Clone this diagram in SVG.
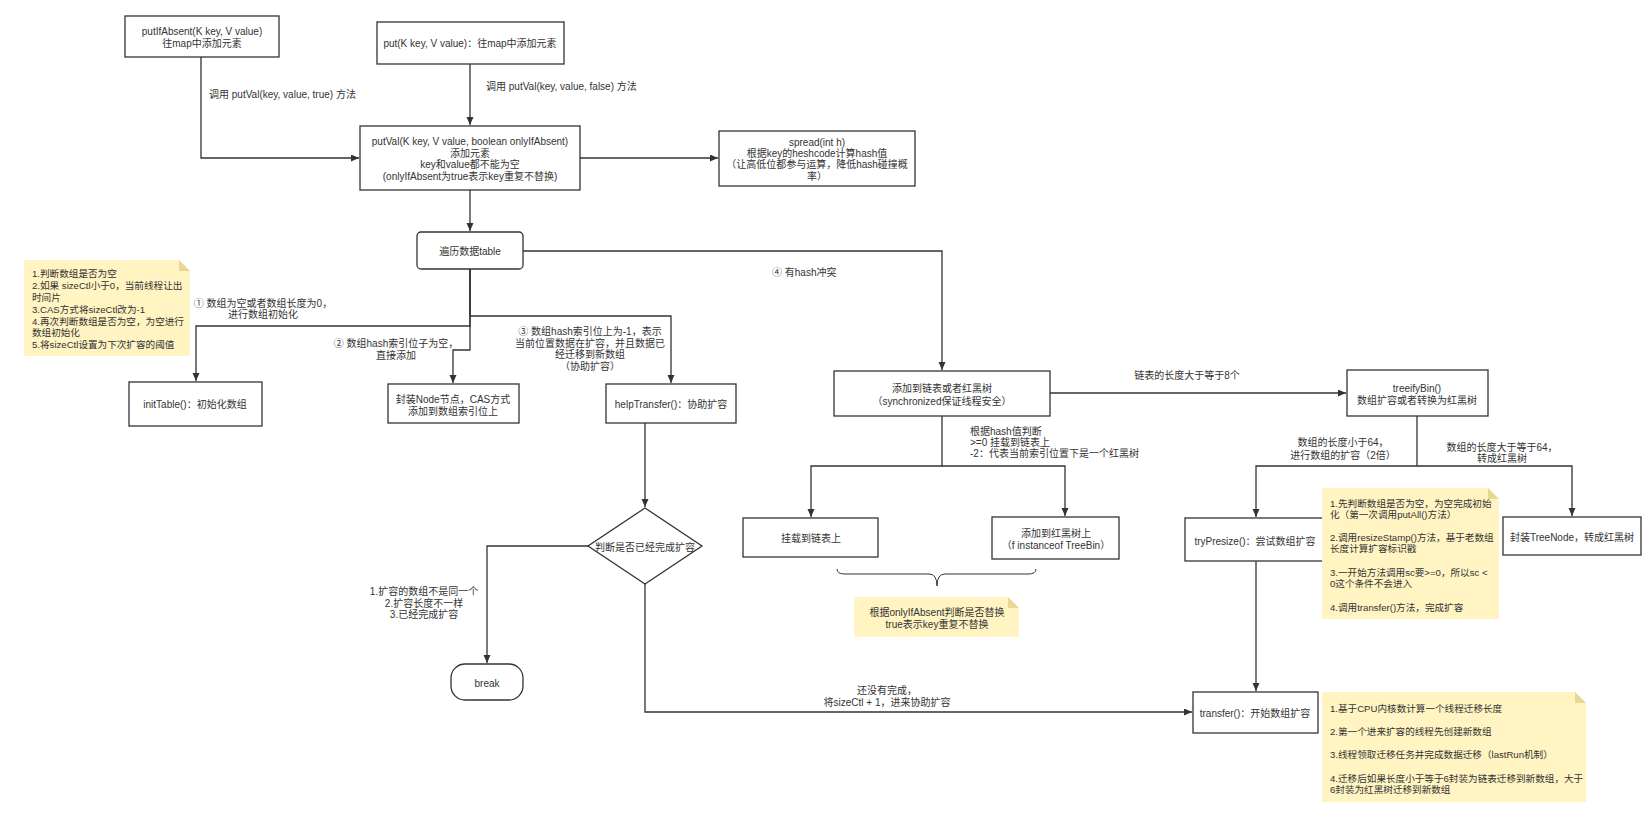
<svg xmlns="http://www.w3.org/2000/svg" width="1652" height="839" viewBox="0 0 1652 839">
<defs>
<marker id="ar" markerWidth="9" markerHeight="8" refX="8" refY="3.5" orient="auto" markerUnits="userSpaceOnUse"><path d="M0,0 L8,3.5 L0,7 Z" fill="#333"/></marker>
<style>
.b{fill:#fff;stroke:#333;stroke-width:1.3}
.t{font-family:"Liberation Sans","Noto Sans CJK SC",sans-serif;font-size:10px;fill:#333;dominant-baseline:central}
.nt{font-size:9.6px}
.m{text-anchor:middle}
.e{fill:none;stroke:#333;stroke-width:1.3;marker-end:url(#ar)}
.n{fill:#fff4c2}
.f{fill:#e8d894}
</style>
</defs>
<rect width="1652" height="839" fill="#fff"/>
<g id="edges">
<path class="e" d="M201,57 V158 H359"/>
<path class="e" d="M470,64 V125"/>
<path class="e" d="M580,158 H718"/>
<path class="e" d="M470,190 V231"/>
<path class="e" d="M470,269 V326 H196 V381"/>
<path class="e" d="M470,269 V316 H671 V383"/>
<path class="e" d="M470,269 V350 H453 V383"/>
<path class="e" d="M523,251 H942 V370"/>
<path class="e" d="M645,423 V507"/>
<path class="e" d="M588,546 H487 V663"/>
<path class="e" d="M645,584 V712 H1192"/>
<path class="e" d="M1050,393 H1346"/>
<path class="e" d="M942,416 V466 H811 V517"/>
<path class="e" d="M942,466 H1065 V516"/>
<path class="e" d="M1417,416 V466 H1256 V517"/>
<path class="e" d="M1417,466 H1572 V516"/>
<path class="e" d="M1256,561 V691"/>
<path d="M837,569 Q837,574 845,574 L929,574 Q937,574 937,586 Q937,574 945,574 L1028,574 Q1036,574 1036,569" fill="none" stroke="#333" stroke-width="1"/>
</g>
<g id="edge-labels">
<text class="t" x="209" y="94">调用 putVal(key, value, true) 方法</text>
<text class="t" x="486" y="86">调用 putVal(key, value, false) 方法</text>
<text class="t m" x="263" y="303">① 数组为空或者数组长度为0，</text>
<text class="t m" x="263" y="314">进行数组初始化</text>
<text class="t m" x="396" y="343">② 数组hash索引位子为空，</text>
<text class="t m" x="396" y="355">直接添加</text>
<text class="t m" x="590" y="331">③ 数组hash索引位上为-1，表示</text>
<text class="t m" x="590" y="343">当前位置数据在扩容，并且数据已</text>
<text class="t m" x="590" y="354">经迁移到新数组</text>
<text class="t m" x="590" y="366">（协助扩容）</text>
<text class="t" x="772" y="272">④ 有hash冲突</text>
<text class="t m" x="1187" y="375">链表的长度大于等于8个</text>
<text class="t" x="970" y="431">根据hash值判断</text>
<text class="t" x="970" y="442">&gt;=0 挂载到链表上</text>
<text class="t" x="970" y="453">-2：代表当前索引位置下是一个红黑树</text>
<text class="t m" x="1343" y="442">数组的长度小于64，</text>
<text class="t m" x="1343" y="455">进行数组的扩容（2倍）</text>
<text class="t m" x="1502" y="447">数组的长度大于等于64，</text>
<text class="t m" x="1502" y="458">转成红黑树</text>
<text class="t m" x="424" y="591">1.扩容的数组不是同一个</text>
<text class="t m" x="424" y="603">2.扩容长度不一样</text>
<text class="t m" x="424" y="614">3.已经完成扩容</text>
<text class="t m" x="887" y="690">还没有完成，</text>
<text class="t m" x="887" y="702">将sizeCtl + 1，进来协助扩容</text>
</g>
<g id="putIfAbsent"><rect class="b" x="125" y="16" width="154" height="41"/><text class="t m" x="202" y="31">putIfAbsent(K key, V value)</text><text class="t m" x="202" y="43">往map中添加元素</text></g>
<g id="put"><rect class="b" x="377" y="22" width="187" height="42"/><text class="t m" x="470" y="43">put(K key, V value)：往map中添加元素</text></g>
<g id="putVal"><rect class="b" x="360" y="126" width="220" height="64"/><text class="t m" x="470" y="141">putVal(K key, V value, boolean onlyIfAbsent)</text><text class="t m" x="470" y="153">添加元素</text><text class="t m" x="470" y="164">key和value都不能为空</text><text class="t m" x="470" y="176">(onlyIfAbsent为true表示key重复不替换)</text></g>
<g id="spread"><rect class="b" x="719" y="131" width="196" height="55"/><text class="t m" x="817" y="142">spread(int h)</text><text class="t m" x="817" y="153">根据key的heshcode计算hash值</text><text class="t m" x="817" y="164">（让高低位都参与运算，降低hash碰撞概</text><text class="t m" x="817" y="176">率）</text></g>
<g id="table"><rect class="b" x="417" y="232" width="106" height="37" rx="4"/><text class="t m" x="470" y="251">遍历数据table</text></g>
<g id="note1"><path class="n" d="M24,260 H179 L190,271 V356 H24 Z"/><path class="f" d="M179,260 V271 H190 Z"/>
<text class="t nt" x="32" y="273">1.判断数组是否为空</text><text class="t nt" x="32" y="285">2.如果 sizeCtl小于0，当前线程让出</text><text class="t nt" x="32" y="297">时间片</text><text class="t nt" x="32" y="309">3.CAS方式将sizeCtl改为-1</text><text class="t nt" x="32" y="321">4.再次判断数组是否为空，为空进行</text><text class="t nt" x="32" y="332">数组初始化</text><text class="t nt" x="32" y="344">5.将sizeCtl设置为下次扩容的阈值</text></g>
<g id="initTable"><rect class="b" x="129" y="382" width="133" height="44"/><text class="t m" x="195" y="404">initTable()：初始化数组</text></g>
<g id="nodeCas"><rect class="b" x="388" y="384" width="131" height="39"/><text class="t m" x="453" y="399">封装Node节点，CAS方式</text><text class="t m" x="453" y="411">添加到数组索引位上</text></g>
<g id="helpTransfer"><rect class="b" x="606" y="384" width="130" height="39"/><text class="t m" x="671" y="404">helpTransfer()：协助扩容</text></g>
<g id="decision"><path class="b" d="M645,508 L702,546 L645,584 L588,546 Z"/><text class="t m" x="645" y="547">判断是否已经完成扩容</text></g>
<g id="break"><rect class="b" x="451" y="664" width="72" height="36" rx="14"/><text class="t m" x="487" y="683">break</text></g>
<g id="addList"><rect class="b" x="834" y="371" width="216" height="45"/><text class="t m" x="942" y="388">添加到链表或者红黑树</text><text class="t m" x="942" y="401">（synchronized保证线程安全）</text></g>
<g id="treeifyBin"><rect class="b" x="1347" y="370" width="141" height="46"/><text class="t m" x="1417" y="388">treeifyBin()</text><text class="t m" x="1417" y="400">数组扩容或者转换为红黑树</text></g>
<g id="linkList"><rect class="b" x="743" y="518" width="135" height="39"/><text class="t m" x="811" y="538">挂载到链表上</text></g>
<g id="rbTree"><rect class="b" x="992" y="517" width="127" height="42"/><text class="t m" x="1056" y="533">添加到红黑树上</text><text class="t m" x="1056" y="545">（f instanceof TreeBin）</text></g>
<g id="note3"><path class="n" d="M854,597 H1008 L1019,608 V637 H854 Z"/><path class="f" d="M1008,597 V608 H1019 Z"/><text class="t m" x="937" y="612">根据onlyIfAbsent判断是否替换</text><text class="t m" x="937" y="624">true表示key重复不替换</text></g>
<g id="tryPresize"><rect class="b" x="1185" y="518" width="140" height="43"/><text class="t m" x="1255" y="541">tryPresize()：尝试数组扩容</text></g>
<g id="treeNode"><rect class="b" x="1503" y="517" width="138" height="38"/><text class="t m" x="1572" y="537">封装TreeNode，转成红黑树</text></g>
<g id="note2"><path class="n" d="M1322,488 H1488 L1499,499 V619 H1322 Z"/><path class="f" d="M1488,488 V499 H1499 Z"/>
<text class="t nt" x="1330" y="503">1.先判断数组是否为空，为空完成初始</text><text class="t nt" x="1330" y="514">化（第一次调用putAll()方法）</text><text class="t nt" x="1330" y="537">2.调用resizeStamp()方法，基于老数组</text><text class="t nt" x="1330" y="548">长度计算扩容标识戳</text><text class="t nt" x="1330" y="572">3.一开始方法调用sc要&gt;=0，所以sc &lt;</text><text class="t nt" x="1330" y="583">0这个条件不会进入</text><text class="t nt" x="1330" y="607">4.调用transfer()方法，完成扩容</text></g>
<g id="transfer"><rect class="b" x="1193" y="692" width="125" height="41"/><text class="t m" x="1255" y="713">transfer()：开始数组扩容</text></g>
<g id="note4"><path class="n" d="M1322,692 H1575 L1586,703 V802 H1322 Z"/><path class="f" d="M1575,692 V703 H1586 Z"/>
<text class="t nt" x="1330" y="708">1.基于CPU内核数计算一个线程迁移长度</text><text class="t nt" x="1330" y="731">2.第一个进来扩容的线程先创建新数组</text><text class="t nt" x="1330" y="754">3.线程领取迁移任务并完成数据迁移（lastRun机制）</text><text class="t nt" x="1330" y="778">4.迁移后如果长度小于等于6封装为链表迁移到新数组，大于</text><text class="t nt" x="1330" y="789">6封装为红黑树迁移到新数组</text></g>
</svg>
